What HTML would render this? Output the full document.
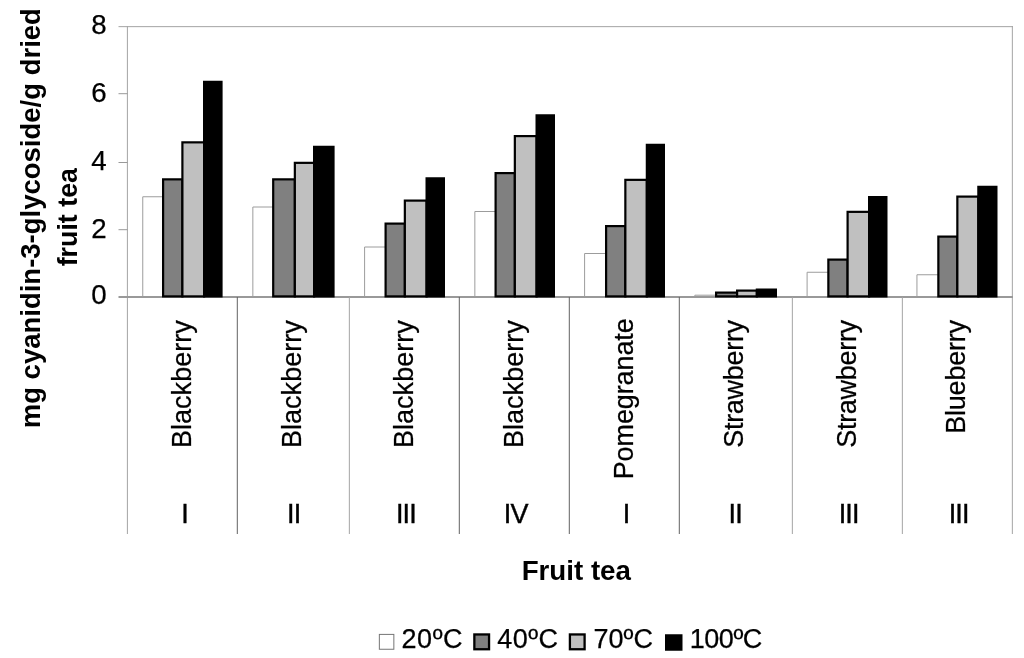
<!DOCTYPE html><html><head><meta charset="utf-8"><title>Chart</title><style>html,body{margin:0;padding:0;background:#fff}svg{display:block;will-change:transform}text{font-family:"Liberation Sans",sans-serif;fill:#000}text.r{stroke:#000;stroke-width:.25px}</style></head><body>
<svg width="1024" height="658" viewBox="0 0 1024 658">
<rect width="1024" height="658" fill="#fff"/>
<g fill="none" stroke-width="1">
<path d="M118.5 26.65H1013.0" stroke="#a4a4a4"/>
<path d="M127.4 26.2V534" stroke="#a4a4a4"/>
<path d="M1012.35 26.2V534" stroke="#a4a4a4"/>
<path d="M118.5 297H1013.0" stroke="#999" stroke-width="2"/>
<path d="M118.5 229.7H127.5" stroke="#999"/>
<path d="M118.5 162.5H127.5" stroke="#999"/>
<path d="M118.5 93.7H127.5" stroke="#999"/>
<path d="M237.30 297V534" stroke="#626262"/>
<path d="M349.35 297V534" stroke="#a4a4a4"/>
<path d="M459.30 297V534" stroke="#626262"/>
<path d="M569.30 297V534" stroke="#626262"/>
<path d="M679.30 297V534" stroke="#626262"/>
<path d="M792.35 297V534" stroke="#a4a4a4"/>
<path d="M902.35 297V534" stroke="#a4a4a4"/>
</g>
<path d="M142.75 296.9V196.75H163.00" fill="none" stroke="#9c9c9c" stroke-width="1"/>
<rect x="163.10" y="179.35" width="19.30" height="117.05" fill="#808080" stroke="#000" stroke-width="2.2"/>
<rect x="182.40" y="142.35" width="21.70" height="154.05" fill="#c0c0c0" stroke="#000" stroke-width="2.2"/>
<rect x="203.00" y="80.75" width="19.60" height="216.75" fill="#000"/>
<path d="M252.85 296.9V207.00H273.10" fill="none" stroke="#9c9c9c" stroke-width="1"/>
<rect x="273.20" y="179.35" width="21.65" height="117.05" fill="#808080" stroke="#000" stroke-width="2.2"/>
<rect x="294.85" y="162.85" width="19.25" height="133.55" fill="#c0c0c0" stroke="#000" stroke-width="2.2"/>
<rect x="313.00" y="145.75" width="21.60" height="151.75" fill="#000"/>
<path d="M364.60 296.9V247.00H385.50" fill="none" stroke="#9c9c9c" stroke-width="1"/>
<rect x="385.60" y="223.60" width="19.25" height="72.80" fill="#808080" stroke="#000" stroke-width="2.2"/>
<rect x="404.85" y="200.60" width="21.75" height="95.80" fill="#c0c0c0" stroke="#000" stroke-width="2.2"/>
<rect x="425.50" y="177.25" width="19.50" height="120.25" fill="#000"/>
<path d="M474.85 296.9V211.50H495.50" fill="none" stroke="#9c9c9c" stroke-width="1"/>
<rect x="495.60" y="173.10" width="19.25" height="123.30" fill="#808080" stroke="#000" stroke-width="2.2"/>
<rect x="514.85" y="136.10" width="21.75" height="160.30" fill="#c0c0c0" stroke="#000" stroke-width="2.2"/>
<rect x="535.50" y="114.25" width="19.50" height="183.25" fill="#000"/>
<path d="M584.60 296.9V253.50H606.00" fill="none" stroke="#9c9c9c" stroke-width="1"/>
<rect x="606.10" y="226.10" width="19.25" height="70.30" fill="#808080" stroke="#000" stroke-width="2.2"/>
<rect x="625.35" y="179.85" width="21.50" height="116.55" fill="#c0c0c0" stroke="#000" stroke-width="2.2"/>
<rect x="645.75" y="143.75" width="19.25" height="153.75" fill="#000"/>
<path d="M694.85 296.9V295.20H716.00" fill="none" stroke="#9c9c9c" stroke-width="1"/>
<rect x="716.10" y="292.60" width="21.00" height="3.80" fill="#808080" stroke="#000" stroke-width="2.2"/>
<rect x="737.10" y="290.60" width="19.75" height="5.80" fill="#c0c0c0" stroke="#000" stroke-width="2.2"/>
<rect x="755.75" y="288.50" width="21.25" height="9.00" fill="#000"/>
<path d="M807.10 296.9V272.25H828.25" fill="none" stroke="#9c9c9c" stroke-width="1"/>
<rect x="828.35" y="259.60" width="19.25" height="36.80" fill="#808080" stroke="#000" stroke-width="2.2"/>
<rect x="847.60" y="211.85" width="21.50" height="84.55" fill="#c0c0c0" stroke="#000" stroke-width="2.2"/>
<rect x="868.00" y="196.00" width="19.50" height="101.50" fill="#000"/>
<path d="M916.95 296.9V274.75H938.25" fill="none" stroke="#9c9c9c" stroke-width="1"/>
<rect x="938.35" y="236.60" width="19.00" height="59.80" fill="#808080" stroke="#000" stroke-width="2.2"/>
<rect x="957.35" y="196.60" width="21.00" height="99.80" fill="#c0c0c0" stroke="#000" stroke-width="2.2"/>
<rect x="977.25" y="185.75" width="20.25" height="111.75" fill="#000"/>
<text x="106.6" y="304.40" class="r" font-size="27.7" text-anchor="end">0</text>
<text x="106.6" y="237.60" class="r" font-size="27.7" text-anchor="end">2</text>
<text x="106.6" y="170.40" class="r" font-size="27.7" text-anchor="end">4</text>
<text x="106.6" y="101.60" class="r" font-size="27.7" text-anchor="end">6</text>
<text x="106.6" y="34.40" class="r" font-size="27.7" text-anchor="end">8</text>
<text transform="translate(190.50 320.2) rotate(-90)" letter-spacing="0.03" class="r" font-size="27" text-anchor="end">Blackberry</text>
<text x="184.50" y="522.6" class="r" font-size="27" text-anchor="middle" letter-spacing="-0.85" style="stroke-width:.4px">I</text>
<text transform="translate(300.50 320.2) rotate(-90)" letter-spacing="0.03" class="r" font-size="27" text-anchor="end">Blackberry</text>
<text x="293.70" y="522.6" class="r" font-size="27" text-anchor="middle" letter-spacing="-0.85" style="stroke-width:.4px">II</text>
<text transform="translate(412.50 320.2) rotate(-90)" letter-spacing="0.03" class="r" font-size="27" text-anchor="end">Blackberry</text>
<text x="405.90" y="522.6" class="r" font-size="27" text-anchor="middle" letter-spacing="-0.85" style="stroke-width:.4px">III</text>
<text transform="translate(522.75 320.2) rotate(-90)" letter-spacing="0.03" class="r" font-size="27" text-anchor="end">Blackberry</text>
<text x="515.70" y="522.6" class="r" font-size="27" text-anchor="middle" letter-spacing="-0.85" style="stroke-width:.4px">IV</text>
<text transform="translate(633.25 318.3) rotate(-90)" letter-spacing="-0.1" class="r" font-size="27" text-anchor="end">Pomegranate</text>
<text x="626.10" y="522.6" class="r" font-size="27" text-anchor="middle" letter-spacing="-0.85" style="stroke-width:.4px">I</text>
<text transform="translate(743.25 320.2) rotate(-90)" letter-spacing="-0.3" class="r" font-size="27" text-anchor="end">Strawberry</text>
<text x="735.20" y="522.6" class="r" font-size="27" text-anchor="middle" letter-spacing="-0.85" style="stroke-width:.4px">II</text>
<text transform="translate(855.50 320.2) rotate(-90)" letter-spacing="-0.3" class="r" font-size="27" text-anchor="end">Strawberry</text>
<text x="848.70" y="522.6" class="r" font-size="27" text-anchor="middle" letter-spacing="-0.85" style="stroke-width:.4px">III</text>
<text transform="translate(965.00 320.2) rotate(-90)" letter-spacing="-0.22" class="r" font-size="27" text-anchor="end">Blueberry</text>
<text x="958.70" y="522.6" class="r" font-size="27" text-anchor="middle" letter-spacing="-0.85" style="stroke-width:.4px">III</text>
<text x="576.3" y="580.3" font-size="27.7" font-weight="bold" text-anchor="middle">Fruit tea</text>
<text transform="translate(40.25 218.2) rotate(-90)" font-size="27.5" font-weight="bold" text-anchor="middle">mg cyanidin-3-glycoside/g dried</text>
<text transform="translate(76.5 217.2) rotate(-90)" font-size="26.8" font-weight="bold" text-anchor="middle">fruit tea</text>
<rect x="379.35" y="634.4" width="14.5" height="14.85" fill="#fff" stroke="#757575" stroke-width="1"/>
<rect x="474.35" y="634.45" width="14.7" height="14.8" fill="#808080" stroke="#000" stroke-width="2.3"/>
<rect x="569.9" y="634.45" width="14.7" height="14.8" fill="#c0c0c0" stroke="#000" stroke-width="2.3"/>
<rect x="665" y="634.25" width="17.5" height="16.5" fill="#000"/>
<text x="401.5" y="647.8" class="r" font-size="27" letter-spacing="0.55">20ºC</text>
<text x="497.3" y="647.8" class="r" font-size="27" letter-spacing="0.4">40ºC</text>
<text x="593.5" y="647.8" class="r" font-size="27" letter-spacing="0">70ºC</text>
<text x="689.7" y="647.8" class="r" font-size="27" letter-spacing="-0.45">100ºC</text>
</svg></body></html>
